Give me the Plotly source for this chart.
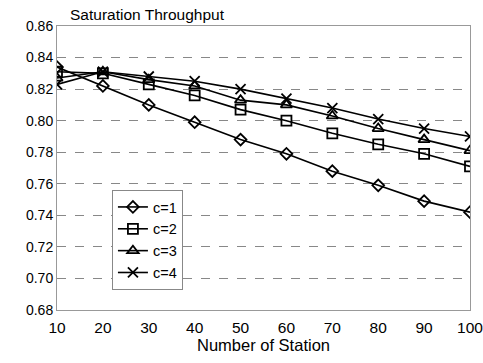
import plotly.graph_objects as go

stations = [10, 20, 30, 40, 50, 60, 70, 80, 90, 100]
c1 = [0.834, 0.822, 0.810, 0.799, 0.788, 0.779, 0.768, 0.759, 0.749, 0.742]
c2 = [0.831, 0.830, 0.823, 0.816, 0.807, 0.800, 0.792, 0.785, 0.779, 0.771]
c3 = [0.827, 0.831, 0.826, 0.822, 0.813, 0.810, 0.803, 0.795, 0.788, 0.781]
c4 = [0.823, 0.831, 0.828, 0.825, 0.820, 0.814, 0.808, 0.801, 0.795, 0.790]
y_ticks = [0.68, 0.70, 0.72, 0.74, 0.76, 0.78, 0.80, 0.82, 0.84, 0.86]

series = [
    ("c=1", c1, "diamond-open", 9),
    ("c=2", c2, "square-open", 10),
    ("c=3", c3, "triangle-up-open", 10),
    ("c=4", c4, "x-thin-open", 10),
]

fig = go.Figure()
for name, vals, sym, sz in series:
    fig.add_trace(go.Scatter(
        x=stations, y=vals, name=name, mode="lines+markers",
        line=dict(color="black", width=1.6),
        marker=dict(symbol=sym, size=sz, color="black",
                    line=dict(color="black", width=1.8)),
    ))

font = dict(family="Liberation Sans, Arial, sans-serif", size=13, color="black")

fig.update_layout(
    width=483, height=363,
    margin=dict(l=57, r=13, t=26, b=53, autoexpand=False),
    paper_bgcolor="white", plot_bgcolor="white",
    font=font,
    showlegend=True,
    legend=dict(x=0.133, y=0.4225, xanchor="left", yanchor="top",
                bgcolor="white", bordercolor="#888", borderwidth=1,
                font=dict(size=14.5), tracegroupgap=0),
    xaxis=dict(range=[10, 100], tickvals=stations, ticks="", showgrid=False,
               zeroline=False, showline=True, linecolor="#999", mirror=True,
               automargin=False, ticklabeloverflow="allow", ticklabelstandoff=3,
               title=dict(text="Number of Station", standoff=4, font=dict(size=16.5)),
               tickfont=dict(size=15.5)),
    yaxis=dict(range=[0.68, 0.86], tickvals=y_ticks, tickformat=".2f",
               ticks="", showgrid=True, gridcolor="#888", griddash="dash",
               gridwidth=1, zeroline=False, showline=True, linecolor="#999",
               mirror=True, automargin=False, ticklabeloverflow="allow",
               tickfont=dict(size=14)),
)
fig.add_annotation(text="Saturation Throughput", xref="paper", yref="paper",
                   x=0.027, y=1.0, xanchor="left", yanchor="bottom", yshift=1,
                   showarrow=False, font=dict(size=15.5))

fig.write_html("out.html")
